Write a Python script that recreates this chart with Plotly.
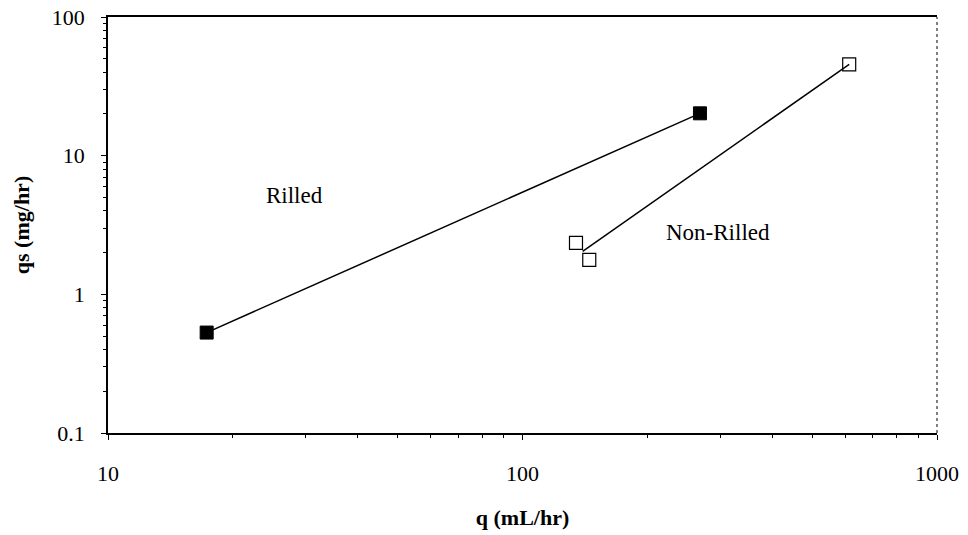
import numpy as np
import plotly.graph_objects as go

# Data
rilled_q = [17.3, 268]
rilled_qs = [0.53, 20.2]

nonrilled_q = [134.6, 144.9, 614]
nonrilled_qs = [2.35, 1.77, 45.6]

x_tick_vals = [10, 100, 1000]
x_tick_text = ["10", "100", "1000"]
y_tick_vals = [0.1, 1, 10, 100]
y_tick_text = ["0.1", "1", "10", "100"]

x_minor = [m * d for d in (10, 100) for m in range(2, 10)]
y_minor = [m * d for d in (0.1, 1, 10) for m in range(2, 10)]

# Non-rilled line: from geometric mean of the low cluster to the top point
low_q = float(np.exp(np.mean(np.log(nonrilled_q[:2]))))
low_qs = float(np.exp(np.mean(np.log(nonrilled_qs[:2]))))
nr_line_q = [low_q, nonrilled_q[2]]
nr_line_qs = [low_qs, nonrilled_qs[2]]

FONT = "Liberation Serif, Times New Roman, serif"
FS = 22

fig = go.Figure()
fig.add_trace(go.Scatter(x=rilled_q, y=rilled_qs, mode="lines+markers",
                         line=dict(color="black", width=1.5),
                         marker=dict(symbol="square", size=13, color="black",
                                     line=dict(color="black", width=1)),
                         showlegend=False))
fig.add_trace(go.Scatter(x=nr_line_q, y=nr_line_qs, mode="lines",
                         line=dict(color="black", width=1.5), showlegend=False))
fig.add_trace(go.Scatter(x=nonrilled_q, y=nonrilled_qs, mode="markers",
                         marker=dict(symbol="square-open", size=13, color="black",
                                     line=dict(color="black", width=1.2)),
                         showlegend=False))

fig.add_annotation(x=np.log10(28.2), y=np.log10(5.2), text="Rilled", showarrow=False,
                   font=dict(family=FONT, size=23, color="black"), xanchor="center")
fig.add_annotation(x=np.log10(297), y=np.log10(2.77), text="Non-Rilled", showarrow=False,
                   font=dict(family=FONT, size=23, color="black"), xanchor="center")

# right border (dashed in the reference)
fig.add_shape(type="line", xref="paper", yref="paper", x0=1, x1=1, y0=0, y1=1,
              line=dict(color="black", width=1, dash="dot"))

fig.update_xaxes(type="log", range=[1, 3], tickvals=x_tick_vals, ticktext=x_tick_text,
                 showgrid=False, zeroline=False, showline=True, linecolor="black",
                 linewidth=1.5, mirror=True, ticks="outside", ticklen=5, tickcolor="black",
                 minor=dict(ticks="outside", ticklen=3, tickcolor="black", showgrid=False,
                            tickvals=x_minor),
                 tickfont=dict(family=FONT, size=FS, color="black"),
                 ticklabelstandoff=15, automargin=False, ticklabeloverflow="allow",
                 title=dict(text="<b>q (mL/hr)</b>", font=dict(family=FONT, size=FS, color="black"),
                            standoff=24))
fig.update_yaxes(type="log", range=[-1, 2], tickvals=y_tick_vals, ticktext=y_tick_text,
                 showgrid=False, zeroline=False, showline=True, linecolor="black",
                 linewidth=1.5, ticks="outside", ticklen=5, tickcolor="black",
                 minor=dict(ticks="outside", ticklen=3, tickcolor="black", showgrid=False,
                            tickvals=y_minor),
                 tickfont=dict(family=FONT, size=FS, color="black"),
                 ticklabelstandoff=12, automargin=False, ticklabeloverflow="allow",
                 title=dict(text="<b>qs (mg/hr)</b>", font=dict(family=FONT, size=FS, color="black"),
                            standoff=16))

fig.update_layout(width=968, height=535, margin=dict(l=108, r=31, t=17, b=102),
                  paper_bgcolor="white", plot_bgcolor="white",
                  font=dict(family=FONT, color="black"))

# remove the browser's default 8px body margin so the figure fills the window
fig.write_html("out.html", config={"displayModeBar": False},
               post_script="document.body.style.margin='0';document.body.style.overflow='hidden';")
